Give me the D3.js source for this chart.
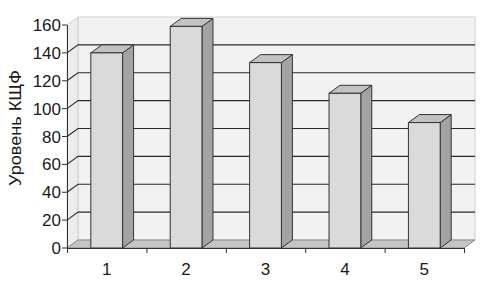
<!DOCTYPE html>
<html>
<head>
<meta charset="utf-8">
<script src="https://cdn.jsdelivr.net/npm/d3@7"></script>
<style>
  body { margin: 0; background: #fff; }
  text { font-family: 'Liberation Sans', Arial, sans-serif; fill: #1a1a1a; }
</style>
</head>
<body>
<svg id="chart" width="487" height="283"></svg>
<script>

var categories = ['1', '2', '3', '4', '5'];
var values = [140, 159, 133, 111, 90];
var yTicks = [0, 20, 40, 60, 80, 100, 120, 140, 160];
var yTitle = 'Уровень КЩФ';

var svg = d3.select('#chart'),
    depthX = 11,
    depthY = -8,
    x = d3.scaleBand()
          .domain(categories)
          .range([67, 464]),
    y = d3.scaleLinear()
          .domain([0, 160])
          .range([248, 25]),
    barWidth = x.bandwidth() * 0.4
    ;

var x0 = x.range()[0], x1 = x.range()[1];

function pts(list) {
  return list.map(function(p) { return p[0] + ',' + p[1]; }).join(' ');
}

// back wall
svg.append('polygon')
    .attr('points', pts([
      [x0 + depthX, y(0) + depthY], [x1 + depthX, y(0) + depthY],
      [x1 + depthX, y(160) + depthY], [x0 + depthX, y(160) + depthY]
    ]))
    .attr('fill', '#f2f2f2')
    .attr('stroke', '#d0d0d0')
    .attr('stroke-width', 1)
;

// side wall
svg.append('polygon')
    .attr('points', pts([
      [x0, y(0)], [x0 + depthX, y(0) + depthY],
      [x0 + depthX, y(160) + depthY], [x0, y(160)]
    ]))
    .attr('fill', '#ececec')
    .attr('stroke', '#d0d0d0')
    .attr('stroke-width', 1)
;

// floor
svg.append('polygon')
    .attr('points', pts([
      [x0, y(0)], [x1, y(0)],
      [x1 + depthX, y(0) + depthY], [x0 + depthX, y(0) + depthY]
    ]))
    .attr('fill', '#c4c4c4')
    .attr('stroke', '#888')
    .attr('stroke-width', 1)
;

// gridlines
var grid = yTicks.filter(function(d) { return d > 0 && d < 160; });

svg.selectAll('.grid')
    .data(grid)
  .enter().append('polyline')
    .attr('class', 'grid')
    .attr('points', function(d) {
      return pts([[x0, y(d)], [x0 + depthX, y(d) + depthY], [x1 + depthX, y(d) + depthY]]);
    })
    .attr('fill', 'none')
    .attr('stroke', '#2a2a2a')
    .attr('stroke-width', 1.1)
;

// y axis
svg.append('line')
    .attr('x1', x0 + 0.5).attr('y1', y(160))
    .attr('x2', x0 + 0.5).attr('y2', y(0))
    .attr('stroke', '#333')
;

svg.selectAll('.ytick')
    .data(yTicks)
  .enter().append('line')
    .attr('class', 'ytick')
    .attr('x1', x0 - 5).attr('x2', x0)
    .attr('y1', function(d) { return y(d); })
    .attr('y2', function(d) { return y(d); })
    .attr('stroke', '#333')
;

svg.selectAll('.ylabel')
    .data(yTicks)
  .enter().append('text')
    .attr('class', 'ylabel')
    .attr('x', x0 - 6)
    .attr('y', function(d) { return y(d); })
    .attr('dy', '0.36em')
    .attr('text-anchor', 'end')
    .attr('font-size', 17)
    .text(function(d) { return d; })
;

// bars
var bars = svg.selectAll('.bar')
    .data(values)
  .enter().append('g')
    .attr('class', 'bar')
;

bars.append('polygon')
    .attr('points', function(d, i) {
      var l = x(categories[i]) + (x.bandwidth() - barWidth) / 2, r = l + barWidth;
      return pts([[r, y(0)], [r + depthX, y(0) + depthY], [r + depthX, y(d) + depthY], [r, y(d)]]);
    })
    .attr('fill', '#a3a3a3')
    .attr('stroke', '#333')
    .attr('stroke-linejoin', 'round')
;

bars.append('polygon')
    .attr('points', function(d, i) {
      var l = x(categories[i]) + (x.bandwidth() - barWidth) / 2, r = l + barWidth;
      return pts([[l, y(d)], [r, y(d)], [r + depthX, y(d) + depthY], [l + depthX, y(d) + depthY]]);
    })
    .attr('fill', '#c2c2c2')
    .attr('stroke', '#333')
    .attr('stroke-linejoin', 'round')
;

bars.append('rect')
    .attr('x', function(d, i) { return x(categories[i]) + (x.bandwidth() - barWidth) / 2; })
    .attr('y', function(d) { return y(d); })
    .attr('width', barWidth)
    .attr('height', function(d) { return y(0) - y(d); })
    .attr('fill', '#dadada')
    .attr('stroke', '#333')
;

// x axis
svg.append('line')
    .attr('x1', x0).attr('y1', y(0) + 0.5)
    .attr('x2', x1).attr('y2', y(0) + 0.5)
    .attr('stroke', '#333')
;

svg.selectAll('.xtick')
    .data(categories.concat(['end']))
  .enter().append('line')
    .attr('class', 'xtick')
    .attr('x1', function(d, i) { return x0 + i * x.step() + 0.5; })
    .attr('x2', function(d, i) { return x0 + i * x.step() + 0.5; })
    .attr('y1', y(0))
    .attr('y2', y(0) + 5)
    .attr('stroke', '#333')
;

svg.selectAll('.xlabel')
    .data(categories)
  .enter().append('text')
    .attr('class', 'xlabel')
    .attr('x', function(d) { return x(d) + x.bandwidth() / 2; })
    .attr('y', 275)
    .attr('text-anchor', 'middle')
    .attr('font-size', 17)
    .text(function(d) { return d; })
;

// y title
svg.append('text')
    .attr('transform', 'translate(21,128) rotate(-90)')
    .attr('text-anchor', 'middle')
    .attr('font-size', 17)
    .attr('textLength', 116)
    .attr('lengthAdjust', 'spacingAndGlyphs')
    .text(yTitle)
;

</script>
</body>
</html>
